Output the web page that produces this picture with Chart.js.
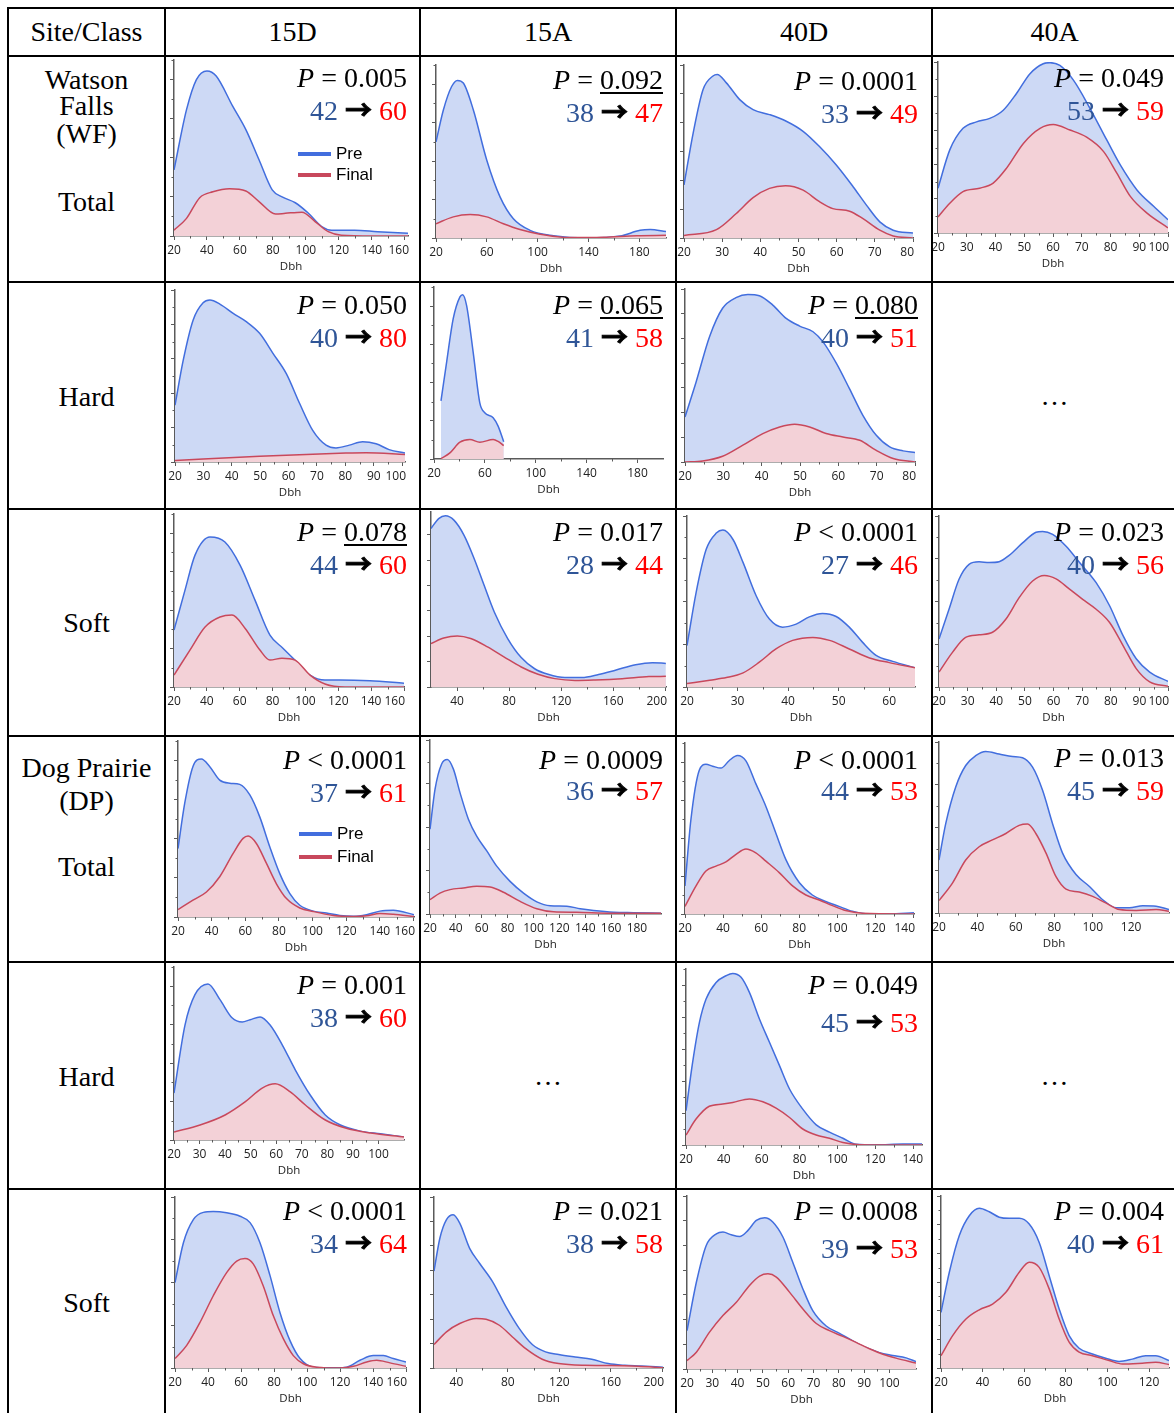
<!DOCTYPE html>
<html>
<head>
<meta charset="utf-8">
<script src="https://cdn.jsdelivr.net/npm/chart.js@4.4.1/dist/chart.umd.min.js"></script>
<style>
  html, body { margin: 0; padding: 0; background: #fff; }
  body { width: 1174px; height: 1413px; overflow: hidden; position: relative;
         font-family: 'Liberation Serif', 'Times New Roman', serif; color: #000; }
  #sheet { position: absolute; left: 0; top: 0; width: 1200px; height: 1430px; }
  .rule { position: absolute; background: #000; }
  .cell { position: absolute; overflow: hidden; }
  .cell canvas { position: absolute; left: 0; top: 0; }
  .lbl { position: absolute; font-size: 28px; line-height: 30px; text-align: center; white-space: nowrap; }
  .stat { position: absolute; width: 260px; font-size: 28px; line-height: 30px; text-align: right; white-space: nowrap; }
  .stat i { font-style: italic; }
  .u { text-decoration: underline; text-decoration-thickness: 2px; text-underline-offset: 3px; }
  .pre { color: #2f5597; }
  .fin { color: #ff0000; }
  .arrow { font-family: 'Noto Sans CJK SC', 'DejaVu Sans', sans-serif; font-weight: bold; font-size: 27px; line-height: 20px;
           -webkit-text-stroke: 0.8px #000; }
  .key { position: absolute; display: flex; align-items: center; font-family: 'Liberation Sans', Arial, sans-serif;
         font-size: 17px; line-height: 20px; white-space: nowrap; }
  .key span { display: inline-block; width: 33px; height: 4px; margin-right: 5px; }
</style>
</head>
<body>
<div id="sheet"></div>
<script>
// ---- tick label sets (Dbh) ----
const ticks10to60 = [20, 30, 40, 50, 60];
const ticks10to80 = [20, 30, 40, 50, 60, 70, 80];
const ticks10to100 = [20, 30, 40, 50, 60, 70, 80, 90, 100];
const ticks20to120 = [20, 40, 60, 80, 100, 120];
const ticks20to140 = [20, 40, 60, 80, 100, 120, 140];
const ticks20to160 = [20, 40, 60, 80, 100, 120, 140, 160];
const ticks20to180 = [20, 40, 60, 80, 100, 120, 140, 160, 180];
const ticks40from20 = [20, 60, 100, 140, 180];
const ticks40from40 = [40, 80, 120, 160, 200];

const seriesNames = ['Pre', 'Final'];
const siteClasses = ['15D', '15A', '40D', '40A'];

// ---- density curves, [Dbh, density] ----
// Watson Falls, total
const wfTotal15D_pre = [[20,1.69],[27.6,3.23],[33.6,4.0],[40,4.22],[45.6,4.09],[55.6,3.32],[63.6,2.72],[71.6,1.95],[79.6,1.18],[85.6,1.0],[93.6,0.85],[101.6,0.58],[109.6,0.24],[115.6,0.15],[129.6,0.15],[143.6,0.11],[162,0.07]];
const wfTotal15D_fin = [[20,0.15],[27.6,0.45],[35.6,0.98],[43.6,1.13],[53.6,1.21],[63.6,1.15],[71.6,0.88],[81.6,0.56],[87.6,0.58],[97.6,0.61],[105.6,0.37],[113.6,0.11],[121.6,0.02],[140,0],[162,0]];
const wfTotal15A_pre = [[20,2.5],[25.8,3.33],[32.3,3.94],[36.8,4.1],[41.5,4.03],[49.4,3.33],[59.9,2.03],[70.4,1.07],[80.9,0.5],[94,0.2],[112.4,0.06],[138.6,0.0],[164.9,0.05],[180.6,0.2],[188.5,0.22],[201,0.17]];
const wfTotal15A_fin = [[20,0.37],[33.6,0.55],[46.8,0.61],[59.9,0.55],[73,0.37],[86.1,0.22],[101.9,0.1],[125.5,0.01],[151.8,0.02],[178,0.06],[201,0.07]];
const wfTotal40D_pre = [[20,1.84],[22.4,3.64],[25,5.15],[27.6,5.62],[28.7,5.67],[31.1,5.38],[34.6,4.8],[38.1,4.45],[42.4,4.28],[46.8,4.05],[51.2,3.7],[55.5,3.17],[59.9,2.53],[64.3,1.78],[67.8,1.14],[71.3,0.56],[74.8,0.27],[80,0.17]];
const wfTotal40D_fin = [[20,0.09],[28.5,0.29],[33.7,0.85],[38.1,1.4],[42.4,1.72],[46.6,1.81],[51.2,1.66],[55.5,1.26],[59,1.02],[63.4,0.93],[66.9,0.67],[71.3,0.27],[74.8,0.07],[80,0]];
const wfTotal40A_pre = [[20,1.31],[24.1,2.43],[28.7,3.06],[33.4,3.25],[38,3.35],[42.7,3.59],[47.3,4.08],[52,4.66],[56.6,4.95],[59,4.98],[62.4,4.9],[67.1,4.47],[72.9,3.64],[78.7,2.72],[83.4,1.99],[89.2,1.26],[95,0.78],[100,0.39]];
const wfTotal40A_fin = [[20,0.47],[24.1,0.87],[28.7,1.21],[34.5,1.31],[39.2,1.46],[43.8,1.89],[49.7,2.62],[55.5,3.06],[60.1,3.17],[65.9,3.01],[71.7,2.8],[77.6,2.38],[82.2,1.75],[86.9,1.07],[92.7,0.58],[100,0.15]];
// Watson Falls, hard
const wfHard15D_pre = [[20,1.65],[22.9,2.96],[26.4,4.13],[29.9,4.63],[32.3,4.71],[35.8,4.59],[40.5,4.32],[45.1,4.08],[49.8,3.74],[54.5,3.16],[59.2,2.57],[63.9,1.7],[68.5,0.92],[73.2,0.49],[76.7,0.41],[81.4,0.49],[86.1,0.59],[90.8,0.53],[95.4,0.36],[101,0.26]];
const wfHard15D_fin = [[20,0.04],[49.8,0.17],[80.2,0.26],[87.3,0.27],[101,0.22]];
const wfHard15A_pre = [[25.5,1.52],[29.9,2.53],[35.1,3.67],[40.4,4.24],[42.5,4.3],[45.6,4.02],[50.8,2.79],[56,1.47],[59.9,1.21],[66.5,1.08],[70.4,0.86],[74.8,0.45]];
const wfHard15A_fin = [[25.5,0.01],[32.5,0.16],[40.4,0.44],[48.2,0.51],[56,0.44],[66.5,0.51],[70.4,0.46],[74.8,0.35]];
const wfHard40D_pre = [[20,1.82],[22.9,3.24],[26.4,5.07],[29.8,6.22],[33.3,6.65],[36.4,6.78],[39.4,6.73],[42.9,6.35],[46.4,5.81],[49.9,5.5],[53.4,5.27],[56,4.86],[59.5,3.99],[62.9,2.97],[66.4,1.89],[69.9,1.08],[73.4,0.61],[76.9,0.45],[80,0.38]];
const wfHard40D_fin = [[20,0],[24.6,0.04],[29.8,0.23],[35.1,0.68],[40.3,1.15],[44.7,1.42],[48.6,1.53],[52.5,1.42],[56.8,1.15],[61.2,1.01],[65.6,0.88],[69.9,0.47],[74.3,0.14],[80,0]];
// Watson Falls, soft
const wfSoft15D_pre = [[20,1.48],[26.7,2.52],[32.8,3.43],[41.9,3.9],[51,3.77],[60.2,3.17],[69.3,2.26],[78.4,1.35],[86.3,1.01],[93.6,0.7],[102.8,0.31],[111.9,0.18],[121,0.18],[139.3,0.16],[160,0.1]];
const wfSoft15D_fin = [[20,0.31],[29.7,0.96],[38.9,1.56],[48,1.82],[55.3,1.87],[63.2,1.53],[72.3,0.96],[78.4,0.7],[85.7,0.75],[93.6,0.7],[102.8,0.31],[111.9,0.08],[124,0],[160,0]];
const wfSoft15A_pre = [[20,6.25],[25.9,6.64],[31.1,6.75],[37.6,6.58],[45.3,5.99],[53.1,5.07],[60.8,4.01],[68.6,2.96],[78.9,1.91],[89.3,1.16],[99.6,0.72],[109.9,0.5],[122.8,0.37],[135.8,0.37],[148.7,0.49],[161.6,0.66],[177.1,0.88],[190,0.96],[200.4,0.93]];
const wfSoft15A_fin = [[20,1.71],[29.8,1.93],[40.2,2.01],[50.5,1.91],[63.4,1.58],[76.3,1.18],[89.3,0.79],[102.2,0.5],[115.1,0.33],[130.6,0.26],[146.1,0.28],[166.8,0.33],[187.4,0.41],[200.4,0.42]];
const wfSoft40D_pre = [[20,0.97],[21.8,2.21],[23.8,3.22],[25.8,3.6],[27.1,3.67],[29.1,3.45],[31.1,2.91],[33.7,2.13],[36.3,1.59],[38.9,1.4],[41.6,1.47],[44.2,1.64],[46.8,1.72],[49.5,1.65],[52.1,1.4],[54.7,1.05],[57.4,0.74],[60.7,0.6],[65.1,0.45]];
const wfSoft40D_fin = [[20,0.08],[24.5,0.16],[27.8,0.22],[31.1,0.33],[34.3,0.58],[37.6,0.89],[40.9,1.09],[44.9,1.16],[48.2,1.09],[52.1,0.89],[56.1,0.68],[60,0.57],[65.1,0.45]];
const wfSoft40A_pre = [[20,1.12],[23.5,1.82],[27,2.52],[30.5,2.87],[34,2.93],[37.5,2.91],[41,2.93],[44.5,3.08],[49.2,3.37],[53.9,3.62],[56.2,3.64],[59.7,3.57],[64.4,3.29],[69.1,2.91],[74.9,2.44],[79.6,1.9],[84.3,1.2],[88.9,0.66],[93.6,0.35],[100,0.13]];
const wfSoft40A_fin = [[20,0.35],[24.7,0.81],[29.3,1.16],[34,1.22],[38.7,1.28],[43.4,1.59],[48,2.09],[52.7,2.48],[56.8,2.61],[60.9,2.53],[65.6,2.29],[70.2,2.05],[74.9,1.82],[79.6,1.51],[84.3,0.97],[88.9,0.43],[93.6,0.12],[100,0.02]];
// Dog Prairie, total
const dpTotal15D_pre = [[20,1.75],[24,2.91],[28.9,3.85],[33.9,4.04],[38.8,3.85],[44.8,3.5],[50.8,3.42],[56.7,3.39],[62.7,3.12],[68.6,2.56],[74.6,1.79],[80.5,1.11],[86.5,0.6],[92.4,0.3],[100.4,0.15],[108.3,0.1],[116.2,0.04],[124.2,0.02],[132.1,0.06],[140,0.15],[148,0.17],[160.3,0.06]];
const dpTotal15D_fin = [[20,0.19],[28.9,0.43],[36.9,0.64],[44.8,1.03],[52.7,1.62],[58.7,2.01],[61.7,2.07],[66.6,1.88],[72.6,1.37],[78.5,0.85],[84.5,0.47],[92.4,0.23],[100.4,0.14],[112.3,0.04],[124.2,0.01],[132.1,0.03],[140,0.09],[148,0.07],[160.3,0.01]];
const dpTotal15A_pre = [[20,1.95],[23.9,2.87],[29,3.45],[33.4,3.55],[38.1,3.33],[43.2,2.79],[49.7,2.18],[56.1,1.79],[63.9,1.45],[71.6,1.1],[81.9,0.75],[92.3,0.48],[102.6,0.28],[112.9,0.19],[125.8,0.18],[136.1,0.12],[146.5,0.08],[162,0.04],[177.4,0.03],[198.6,0.02]];
const dpTotal15A_fin = [[20,0.33],[27.7,0.48],[35.5,0.56],[45.8,0.6],[56.1,0.64],[66.5,0.62],[76.8,0.5],[89.7,0.29],[102.6,0.12],[115.5,0.05],[133.5,0.04],[159.4,0.02],[198.6,0.02]];
const dpTotal40D_pre = [[20,0.74],[23.1,2.48],[27.5,3.78],[31,3.94],[34.5,3.89],[38.9,3.84],[43.3,4.04],[47.6,4.17],[52,4.03],[57.2,3.43],[62.5,2.83],[67.7,2.13],[73,1.43],[80,0.83],[86.9,0.5],[93.9,0.33],[100.9,0.2],[107.9,0.07],[116.7,0.0],[127.2,0.0],[140.3,0.03]];
const dpTotal40D_fin = [[20,0.2],[25.8,0.74],[31,1.13],[36.3,1.26],[41.5,1.37],[46.8,1.57],[52,1.71],[57.2,1.61],[62.5,1.39],[69.5,1.09],[76.5,0.74],[83.5,0.5],[90.5,0.37],[97.5,0.22],[104.4,0.09],[113.2,0.02],[140.3,0]];
const dpTotal40A_pre = [[20,1.24],[23.5,2.09],[28.7,2.95],[33.9,3.45],[39.1,3.68],[44.3,3.78],[51.3,3.72],[58.3,3.66],[63.5,3.63],[68.7,3.41],[73.9,2.87],[79.1,2.09],[84.3,1.4],[91.3,0.9],[98.3,0.62],[105.2,0.31],[112.2,0.12],[119.1,0.12],[126.1,0.17],[133,0.16],[139.7,0.08]];
const dpTotal40A_fin = [[20,0.29],[27,0.7],[33.9,1.24],[40.9,1.55],[47.8,1.71],[54.8,1.86],[61.7,2.05],[66.1,2.08],[70.4,1.86],[75.7,1.4],[80.9,0.85],[86.1,0.56],[93,0.49],[100,0.39],[107,0.23],[113.9,0.08],[122.6,0.06],[133,0.08],[139.7,0.04]];
// Dog Prairie, hard
const dpHard15D_pre = [[20,1.22],[24.3,2.99],[28.2,3.78],[33.3,4.06],[38,3.65],[42.7,3.18],[46.7,3.07],[49.8,3.13],[53.7,3.2],[57.6,2.99],[62.4,2.47],[67.5,1.82],[73.3,1.17],[79.2,0.65],[85.1,0.39],[92.9,0.23],[100.8,0.16],[110,0.08]];
const dpHard15D_fin = [[20,0.21],[30.2,0.39],[40,0.65],[47.8,0.99],[54.5,1.35],[59.6,1.46],[65.5,1.25],[71.4,0.91],[79.2,0.52],[87.1,0.31],[96.9,0.18],[110,0.08]];
const dpHard40D_pre = [[20,1.07],[23.5,2.58],[27.1,3.83],[30.6,4.56],[35.9,5.08],[41.2,5.29],[44.7,5.36],[49.1,5.24],[53.5,4.77],[58.8,3.94],[64.1,3.21],[69.4,2.48],[74.7,1.75],[81.7,1.12],[88.8,0.63],[95.8,0.4],[102.9,0.21],[109.9,0.02],[120.5,0],[134.6,0.03],[144.7,0.03]];
const dpHard40D_fin = [[20,0.31],[25.3,0.81],[32.3,1.21],[39.4,1.28],[44.7,1.33],[53.5,1.44],[60.6,1.35],[67.6,1.15],[74.7,0.86],[81.7,0.5],[88.8,0.31],[95.8,0.21],[102.9,0.08],[111.7,0.01],[144.7,0]];
// Dog Prairie, soft
const dpSoft15D_pre = [[20,2.0],[25.1,2.93],[31.1,3.47],[37.2,3.64],[43.2,3.66],[51.3,3.63],[59.4,3.55],[65.5,3.4],[71.5,2.93],[77.6,2.16],[83.6,1.3],[89.7,0.64],[95.8,0.22],[103.8,0.02],[116,0],[124,0.02],[132.1,0.18],[140.2,0.29],[146.3,0.29],[152.3,0.22],[160,0.14]];
const dpSoft15D_fin = [[20,0.22],[27.1,0.53],[35.2,1.07],[43.2,1.69],[51.3,2.23],[57.4,2.5],[62.4,2.56],[67.5,2.43],[73.5,1.92],[79.6,1.22],[85.7,0.68],[91.7,0.29],[97.8,0.1],[105.9,0.02],[120,0],[128.1,0.04],[136.2,0.14],[142.2,0.18],[150.3,0.12],[160,0.04]];
const dpSoft15A_pre = [[22.6,3.97],[27.2,5.32],[32.3,6.07],[37.5,6.27],[42.6,5.93],[50.3,4.9],[58,4.29],[68.2,3.53],[78.5,2.51],[88.8,1.62],[99,0.96],[109.3,0.66],[119.5,0.55],[132.3,0.45],[145.2,0.36],[158,0.18],[170.8,0.11],[183.6,0.08],[200.6,0.03]];
const dpSoft15A_fin = [[22.6,0.96],[32.3,1.48],[42.6,1.82],[55.4,2.03],[63.1,2.0],[73.4,1.75],[83.6,1.27],[93.9,0.79],[106.7,0.36],[119.5,0.18],[140,0.11],[160.6,0.1],[181.1,0.07],[200.6,0.01]];
const dpSoft40D_pre = [[20,1.55],[23.7,3.51],[27.6,5.0],[31.6,5.47],[34.2,5.54],[37.5,5.43],[40.8,5.36],[44.1,5.61],[47.4,6.01],[50.7,6.12],[53.9,5.95],[57.9,5.34],[61.8,4.32],[65.8,3.24],[69.7,2.36],[75,1.74],[80.3,1.44],[85.5,1.14],[90.8,0.87],[96.1,0.66],[101.3,0.55],[106.6,0.45],[110.5,0.3]];
const dpSoft40D_fin = [[20,0.34],[23.7,0.68],[28.9,1.49],[34.2,2.16],[39.5,2.7],[44.7,3.38],[48.7,3.76],[52,3.85],[55.3,3.72],[60.5,3.11],[65.8,2.43],[71.1,1.84],[76.3,1.55],[81.6,1.32],[86.8,1.08],[92.1,0.82],[97.4,0.6],[102.6,0.44],[110.5,0.24]];
const dpSoft40A_pre = [[20,1.94],[24,3.34],[28.8,4.62],[33.6,5.31],[38.4,5.57],[43.2,5.45],[48,5.26],[52.8,5.22],[57.6,5.22],[62.4,5.02],[67.2,4.38],[72,3.22],[76.8,2.06],[81.6,1.13],[86.4,0.69],[92.8,0.49],[99.2,0.34],[105.6,0.23],[112,0.31],[118.4,0.43],[123.2,0.43],[129.6,0.26]];
const dpSoft40A_fin = [[20,0.43],[25.6,1.13],[32,1.71],[38.4,2.03],[44.8,2.23],[51.2,2.64],[57.6,3.34],[62.4,3.69],[67.2,3.51],[72,2.76],[76.8,1.71],[81.6,0.9],[86.4,0.55],[92.8,0.43],[100.8,0.26],[107.2,0.14],[116.8,0.17],[123.2,0.2],[129.6,0.12]];

// ---- sheet geometry ----
const colX = [8, 165, 420, 676, 932, 1177];
const rowY = [8, 56, 282, 509, 736, 962, 1189, 1415];
const statRight = [0, 407, 663, 918, 1164];

const PRE_LINE = '#426ede', PRE_FILL = '#cdd9f5';
const FIN_LINE = '#c8485c', FIN_FILL = '#f3d1d7';
const AXIS = '#5a5a5a';
const Y_AXIS_W = 5, X_AXIS_H = 40;

// row, col, curves, x ticks/range, y range, plot box [l, t, r, b], P label, means, label centres
const panels = [
  { row: 1, col: 1, pre: wfTotal15D_pre, fin: wfTotal15D_fin, ticks: ticks20to160, xMax: 162, yMax: 4.5, minor: true, box: [174, 60, 408, 236], p: ['=', '0.005', false], means: [42, 60], statY: [78, 111] },
  { row: 1, col: 2, pre: wfTotal15A_pre, fin: wfTotal15A_fin, ticks: ticks40from20, xMax: 201, yMax: 4.5, minor: true, box: [436, 65, 666, 238], p: ['=', '0.092', true], means: [38, 47], statY: [80, 113] },
  { row: 1, col: 3, pre: wfTotal40D_pre, fin: wfTotal40D_fin, ticks: ticks10to80, xMax: 80, yMax: 6, minor: false, box: [684, 65, 913, 238], p: ['=', '0.0001', false], means: [33, 49], statY: [81, 114] },
  { row: 1, col: 4, pre: wfTotal40A_pre, fin: wfTotal40A_fin, ticks: ticks10to100, xMax: 100, yMax: 5, minor: true, box: [938, 62, 1168, 233], p: ['=', '0.049', false], means: [53, 59], statY: [78, 111] },

  { row: 2, col: 1, pre: wfHard15D_pre, fin: wfHard15D_fin, ticks: ticks10to100, xMax: 101, yMax: 5, minor: true, box: [175, 290, 405, 462], p: ['=', '0.050', false], means: [40, 80], statY: [305, 338] },
  { row: 2, col: 2, pre: wfHard15A_pre, fin: wfHard15A_fin, ticks: ticks40from20, xMax: 200, yMax: 4.5, minor: true, box: [434, 287, 663, 459], p: ['=', '0.065', true], means: [41, 58], statY: [305, 338] },
  { row: 2, col: 3, pre: wfHard40D_pre, fin: wfHard40D_fin, ticks: ticks10to80, xMax: 80, yMax: 7, minor: false, box: [685, 289, 915, 462], p: ['=', '0.080', true], means: [40, 51], statY: [305, 338] },

  { row: 3, col: 1, pre: wfSoft15D_pre, fin: wfSoft15D_fin, ticks: ticks20to160, xMax: 160, yMax: 4.5, minor: true, box: [174, 514, 404, 687], p: ['=', '0.078', true], means: [44, 60], statY: [532, 565] },
  { row: 3, col: 2, pre: wfSoft15A_pre, fin: wfSoft15A_fin, ticks: ticks40from40, xMax: 200.5, yMax: 6.9, minor: false, box: [431, 512, 666, 687], p: ['=', '0.017', false], means: [28, 44], statY: [532, 565] },
  { row: 3, col: 3, pre: wfSoft40D_pre, fin: wfSoft40D_fin, ticks: ticks10to60, xMax: 65.1, yMax: 4, minor: true, box: [687, 516, 915, 687], p: ['<', '0.0001', false], means: [27, 46], statY: [532, 565] },
  { row: 3, col: 4, pre: wfSoft40A_pre, fin: wfSoft40A_fin, ticks: ticks10to100, xMax: 100, yMax: 4, minor: true, box: [939, 516, 1168, 687], p: ['=', '0.023', false], means: [40, 56], statY: [532, 565] },

  { row: 4, col: 1, pre: dpTotal15D_pre, fin: dpTotal15D_fin, ticks: ticks20to160, xMax: 160.3, yMax: 4.5, minor: true, box: [178, 741, 414, 917], p: ['<', '0.0001', false], means: [37, 61], statY: [760, 793] },
  { row: 4, col: 2, pre: dpTotal15A_pre, fin: dpTotal15A_fin, ticks: ticks20to180, xMax: 198.6, yMax: 4, minor: true, box: [430, 740, 661, 914], p: ['=', '0.0009', false], means: [36, 57], statY: [760, 791] },
  { row: 4, col: 3, pre: dpTotal40D_pre, fin: dpTotal40D_fin, ticks: ticks20to140, xMax: 140.3, yMax: 4.5, minor: true, box: [685, 743, 914, 914], p: ['<', '0.0001', false], means: [44, 53], statY: [760, 791] },
  { row: 4, col: 4, pre: dpTotal40A_pre, fin: dpTotal40A_fin, ticks: ticks20to120, xMax: 139.7, yMax: 4, minor: true, box: [939, 742, 1169, 913], p: ['=', '0.013', false], means: [45, 59], statY: [758, 791] },

  { row: 5, col: 1, pre: dpHard15D_pre, fin: dpHard15D_fin, ticks: ticks10to100, xMax: 110, yMax: 4.5, minor: true, box: [174, 967, 404, 1140], p: ['=', '0.001', false], means: [38, 60], statY: [985, 1018] },
  { row: 5, col: 3, pre: dpHard40D_pre, fin: dpHard40D_fin, ticks: ticks20to140, xMax: 144.7, yMax: 5.5, minor: true, box: [686, 969, 922, 1145], p: ['=', '0.049', false], means: [45, 53], statY: [985, 1023] },

  { row: 6, col: 1, pre: dpSoft15D_pre, fin: dpSoft15D_fin, ticks: ticks20to160, xMax: 160, yMax: 4, minor: true, box: [175, 1197, 406, 1368], p: ['<', '0.0001', false], means: [34, 64], statY: [1211, 1244] },
  { row: 6, col: 2, pre: dpSoft15A_pre, fin: dpSoft15A_fin, ticks: ticks40from40, xMin: 22.6, xMax: 200.6, yMax: 7, minor: false, box: [434, 1197, 663, 1368], p: ['=', '0.021', false], means: [38, 58], statY: [1211, 1244] },
  { row: 6, col: 3, pre: dpSoft40D_pre, fin: dpSoft40D_fin, ticks: ticks10to100, xMax: 110.5, yMax: 7, minor: false, box: [687, 1196, 916, 1369], p: ['=', '0.0008', false], means: [39, 53], statY: [1211, 1249] },
  { row: 6, col: 4, pre: dpSoft40A_pre, fin: dpSoft40A_fin, ticks: ticks20to120, xMax: 129.6, yMax: 6, minor: true, box: [941, 1196, 1169, 1368], p: ['=', '0.004', false], means: [40, 61], statY: [1211, 1244] }
];

// empty site/class combinations
const emptyCells = [[2, 4], [5, 2], [5, 4]];

// first-column labels: [text, centre y]
const siteLabels = [
  ['Watson', 80], ['Falls', 106], ['(WF)', 134], ['Total', 202],
  ['Hard', 397], ['Soft', 623],
  ['Dog Prairie', 768], ['(DP)', 801], ['Total', 867],
  ['Hard', 1077], ['Soft', 1303]
];

// legend keys drawn in two panels: [left x, Pre y, Final y]
const legendSpots = [[298, 154, 175], [299, 834, 857]];

const sheet = document.getElementById('sheet');

function addDiv(cls, css, html) {
  const el = document.createElement('div');
  el.className = cls;
  Object.assign(el.style, css);
  if (html !== undefined) el.innerHTML = html;
  sheet.appendChild(el);
  return el;
}

// table rules
colX.forEach(x => addDiv('rule', { left: (x - 1) + 'px', top: '7px', width: '2px', height: '1420px' }));
rowY.forEach(y => addDiv('rule', { left: '7px', top: (y - 1) + 'px', width: '1180px', height: '2px' }));

// header row
const headY = 32;
addDiv('lbl', { left: colX[0] + 'px', width: (colX[1] - colX[0]) + 'px', top: (headY - 15) + 'px' }, 'Site/Class');
siteClasses.forEach((name, i) => {
  addDiv('lbl', { left: colX[i + 1] + 'px', width: (colX[i + 2] - colX[i + 1]) + 'px', top: (headY - 15) + 'px' }, name);
});

siteLabels.forEach(([text, y]) => {
  addDiv('lbl', { left: colX[0] + 'px', width: (colX[1] - colX[0]) + 'px', top: (y - 15) + 'px' }, text);
});

emptyCells.forEach(([r, c]) => {
  const cy = (rowY[r] + rowY[r + 1]) / 2;
  addDiv('lbl', { left: colX[c] + 'px', width: (colX[c + 1] - colX[c]) + 'px', top: (cy - 15) + 'px' }, '…');
});

// short ticks halfway between the labelled ones
const minorTicks = {
  id: 'minorTicks',
  afterDraw(chart, args, opts) {
    const { ctx, scales: { x, y } } = chart;
    ctx.save();
    ctx.strokeStyle = AXIS;
    ctx.lineWidth = 1;
    ctx.beginPath();
    const xt = x.ticks.map(t => t.value);
    for (let i = 0; i < xt.length - 1; i++) {
      const px = Math.round(x.getPixelForValue((xt[i] + xt[i + 1]) / 2)) + 0.5;
      ctx.moveTo(px, x.top);
      ctx.lineTo(px, x.top + 2.5);
    }
    if (opts.yMinor) {
      for (let v = 0.5; v <= y.max + 1e-6; v += 1) {
        const py = Math.round(y.getPixelForValue(v)) + 0.5;
        ctx.moveTo(y.right - 2.5, py);
        ctx.lineTo(y.right, py);
      }
    }
    ctx.stroke();
    ctx.restore();
  }
};

// keep the last Dbh label from running past the end of its axis
const lastLabelInside = {
  id: 'lastLabelInside',
  beforeDraw(chart) {
    const x = chart.scales.x;
    const items = x.getLabelItems(chart.chartArea);
    if (!items.length) return;
    const last = items[items.length - 1];
    const ctx = chart.ctx;
    ctx.save();
    ctx.font = last.font.string;
    const w = ctx.measureText(String(last.label)).width;
    ctx.restore();
    const limit = x.right + 1;
    const tr = last.options.translation;
    if (tr[0] + w / 2 > limit) tr[0] = limit - w / 2;
  }
};

Chart.defaults.font.family = "'Open Sans', 'DejaVu Sans', sans-serif";
Chart.defaults.color = '#222';

function toPoints(arr) {
  return arr.map(([x, y]) => ({ x, y }));
}

panels.forEach(p => {
  const x0 = colX[p.col] + 1, x1 = colX[p.col + 1] - 1;
  const y0 = rowY[p.row] + 1, y1 = rowY[p.row + 1] - 1;
  const cell = addDiv('cell', { left: x0 + 'px', top: y0 + 'px', width: (x1 - x0) + 'px', height: (y1 - y0) + 'px' });
  const canvas = document.createElement('canvas');
  canvas.width = x1 - x0;
  canvas.height = y1 - y0;
  cell.appendChild(canvas);

  const [bl, bt, br, bb] = p.box;
  const yMajors = [];
  for (let v = 0; v <= p.yMax + 1e-6; v += 1) yMajors.push({ value: v });

  new Chart(canvas, {
    type: 'line',
    data: {
      datasets: [
        { label: seriesNames[1], data: toPoints(p.fin), borderColor: FIN_LINE, backgroundColor: FIN_FILL,
          fill: 'origin', borderWidth: 1.5, pointRadius: 0, cubicInterpolationMode: 'monotone' },
        { label: seriesNames[0], data: toPoints(p.pre), borderColor: PRE_LINE, backgroundColor: PRE_FILL,
          fill: 'origin', borderWidth: 1.5, pointRadius: 0, cubicInterpolationMode: 'monotone' }
      ]
    },
    options: {
      responsive: false,
      animation: false,
      devicePixelRatio: 1,
      events: [],
      layout: {
        padding: {
          left: Math.max(0, bl - x0 - Y_AXIS_W),
          top: bt - y0,
          right: x1 - br,
          bottom: Math.max(0, y1 - bb - X_AXIS_H)
        }
      },
      plugins: {
        legend: { display: false },
        tooltip: { enabled: false },
        minorTicks: { yMinor: p.minor }
      },
      scales: {
        x: {
          type: 'linear',
          min: p.xMin !== undefined ? p.xMin : 20,
          max: p.xMax,
          afterBuildTicks: s => { s.ticks = p.ticks.map(v => ({ value: v })); },
          afterFit: s => { s.height = X_AXIS_H; s.paddingLeft = 0; s.paddingRight = 0; },
          grid: { drawOnChartArea: false, drawTicks: true, tickLength: 4, tickColor: AXIS, tickWidth: 1 },
          border: { color: AXIS, width: 1.5 },
          ticks: { autoSkip: false, maxRotation: 0, padding: 3, font: { size: 12 }, color: '#222', callback: v => String(v) },
          title: { display: true, text: 'Dbh', font: { size: 11.5 }, color: '#222', padding: { top: 0, bottom: 2 } }
        },
        y: {
          type: 'linear',
          min: 0,
          max: p.yMax,
          afterBuildTicks: s => { s.ticks = yMajors.slice(); },
          afterFit: s => { s.width = Y_AXIS_W; },
          grid: { drawOnChartArea: false, drawTicks: true, tickLength: 4, tickColor: AXIS, tickWidth: 1 },
          border: { color: AXIS, width: 1.5 },
          ticks: { display: false }
        }
      }
    },
    plugins: [minorTicks, lastLabelInside]
  });

  // P value and mean Dbh before -> after
  const right = statRight[p.col];
  const [py, ny] = p.statY;
  const [op, val, underline] = p.p;
  addDiv('stat', { left: (right - 260) + 'px', top: (py - 15) + 'px' },
    `<i>P</i> ${op === '<' ? '&lt;' : '='} <span class="${underline ? 'u' : ''}">${val}</span>`);
  addDiv('stat', { left: (right - 260) + 'px', top: (ny - 15) + 'px' },
    `<span class="pre">${p.means[0]}</span> <span class="arrow">→</span> <span class="fin">${p.means[1]}</span>`);
});

legendSpots.forEach(([lx, preY, finY]) => {
  addDiv('key', { left: lx + 'px', top: (preY - 10) + 'px' }, `<span style="background:${PRE_LINE}"></span>${seriesNames[0]}`);
  addDiv('key', { left: lx + 'px', top: (finY - 10) + 'px' }, `<span style="background:${FIN_LINE}"></span>${seriesNames[1]}`);
});
</script>
</body>
</html>
